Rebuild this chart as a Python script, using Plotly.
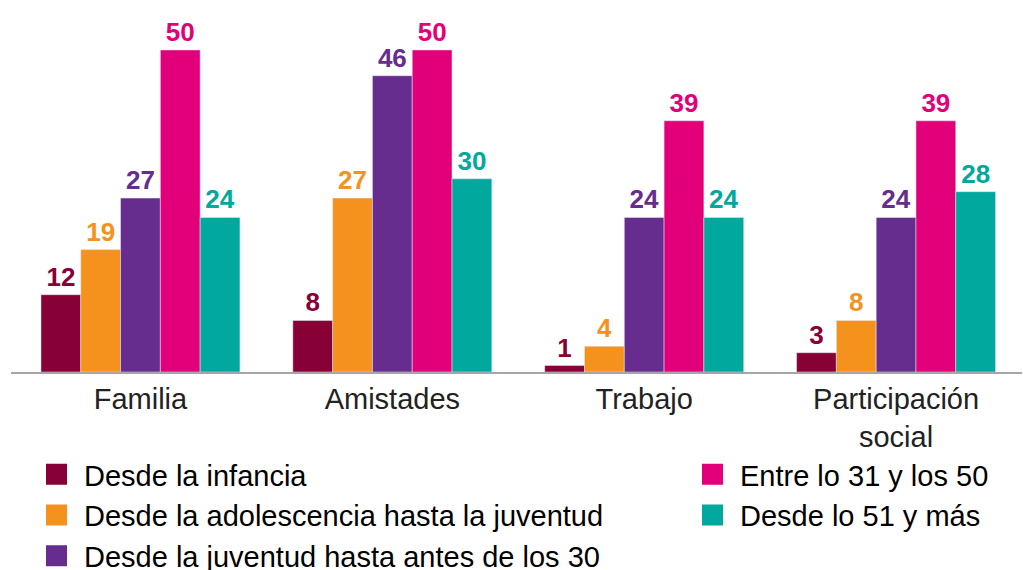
import plotly.graph_objects as go

categories = ["Familia", "Amistades", "Trabajo", "Participación<br>social"]
series_names = [
    "Desde la infancia",
    "Desde la adolescencia hasta la juventud",
    "Desde la juventud hasta antes de los 30",
    "Entre lo 31 y los 50",
    "Desde lo 51 y más",
]
infancia = [12, 8, 1, 3]
adolescencia = [19, 27, 4, 8]
juventud = [27, 46, 24, 24]
entre_31_50 = [50, 50, 39, 39]
desde_51 = [24, 30, 24, 28]
series_values = [infancia, adolescencia, juventud, entre_31_50, desde_51]
colors = ["#870036", "#F5921E", "#662D8F", "#E2007A", "#00A89D"]
legend_ids = ["legend", "legend", "legend", "legend2", "legend2"]

FONT = "Liberation Sans, Arial, sans-serif"

fig = go.Figure()
for name, vals, col in zip(series_names, series_values, colors):
    fig.add_trace(go.Bar(
        x=categories, y=vals, name=name, marker_color=col,
        text=vals, texttemplate="<b>%{text}</b>", textposition="outside",
        textfont=dict(size=26, color=col, family=FONT),
        cliponaxis=False, showlegend=False, hoverinfo="skip",
    ))

for name, col, lg in zip(series_names, colors, legend_ids):
    fig.add_trace(go.Scatter(
        x=[categories[0]], y=[None], mode="markers", name=name,
        marker=dict(symbol="square", size=16, color=col, line=dict(width=5, color=col)),
        legend=lg, showlegend=True, hoverinfo="skip",
    ))

legend_common = dict(
    xref="container", yref="container",
    xanchor="left", yanchor="top", orientation="v",
    font=dict(size=29, color="#000000", family=FONT),
    itemsizing="trace", itemwidth=45, bgcolor="rgba(0,0,0,0)",
)

fig.update_layout(
    width=1023, height=570,
    margin=dict(l=11, r=1, t=10, b=198, autoexpand=False),
    paper_bgcolor="white", plot_bgcolor="white",
    barmode="group", bargap=0.21, bargroupgap=0,
    font=dict(family=FONT, color="#1a1a1a"),
    xaxis=dict(
        type="category", range=[-0.514, 3.5], showgrid=False, zeroline=False,
        showline=True, linecolor="#a6a6a6", linewidth=2,
        ticks="", tickangle=0, automargin=False,
        tickfont=dict(size=29, color="#222222", family=FONT),
    ),
    yaxis=dict(range=[0, 56.2], visible=False),
    legend=dict(legend_common, x=29 / 1023, y=1 - 449 / 570),
    legend2=dict(legend_common, x=685 / 1023, y=1 - 449 / 570),
)

fig.write_html(
    "out.html",
    config={"displayModeBar": False},
    post_script="document.body.style.margin='0';document.body.style.overflow='hidden';",
)
